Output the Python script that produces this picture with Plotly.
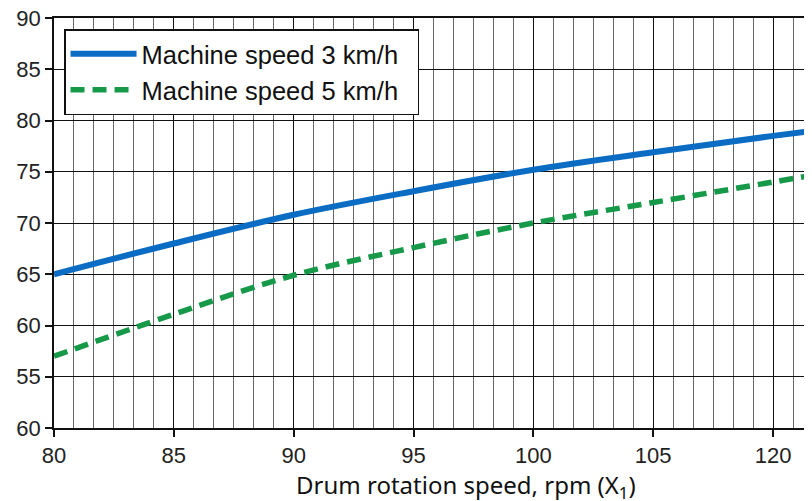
import plotly.graph_objects as go

# Data
drum_speed = [80, 85, 90, 95, 100, 105, 110, 112]
speed_3kmh = [65.0, 68.0, 70.8, 73.1, 75.2, 76.9, 78.5, 79.1]
speed_5kmh = [57.0, 61.1, 64.9, 67.6, 70.0, 72.0, 74.0, 74.8]

x_tick_vals = [80, 85, 90, 95, 100, 105, 110]
x_tick_text = ["80", "85", "90", "95", "100", "105", "120"]
y_tick_vals = [50, 55, 60, 65, 70, 75, 80, 85, 90]
y_tick_text = ["60", "55", "60", "65", "70", "75", "80", "85", "90"]

series_names = ["Machine speed 3 km/h", "Machine speed 5 km/h"]
x_title = "Drum rotation speed, rpm (X<sub>1</sub>)"
pad = "\u00a0\u00a0"

fig = go.Figure()
fig.add_trace(go.Scatter(
    x=drum_speed, y=speed_3kmh, mode="lines", name=series_names[0] + pad,
    line=dict(color="#0b6cc4", width=6, shape="spline"),
))
fig.add_trace(go.Scatter(
    x=drum_speed, y=speed_5kmh, mode="lines", name=series_names[1] + pad,
    line=dict(color="#17994a", width=5.5, dash="14px,8px", shape="spline"),
))

tick_font = dict(family="Liberation Sans, Arial, sans-serif", size=22, color="#222")

fig.update_layout(
    width=812, height=501,
    margin=dict(l=46, r=0, t=10, b=81),
    paper_bgcolor="white", plot_bgcolor="white",
    showlegend=True,
    legend=dict(
        x=0.0131, y=0.973, xanchor="left", yanchor="top",
        bgcolor="white", bordercolor="#111", borderwidth=1.5,
        font=dict(family="Liberation Sans, Arial, sans-serif", size=25.5, color="#111"),
        itemwidth=66, tracegroupgap=0,
    ),
    xaxis=dict(
        range=[80, 111.96], tickmode="array", tickvals=x_tick_vals, ticktext=x_tick_text,
        ticks="outside", ticklen=7, tickwidth=1.5, tickcolor="#111",
        showline=True, linecolor="#111", linewidth=1.5, mirror=True,
        showgrid=True, gridcolor="#111", gridwidth=1.2,
        minor=dict(tick0=80, dtick=5/6, showgrid=True, gridcolor="#666", gridwidth=1, ticks=""),
        tickfont=tick_font, zeroline=False, automargin=False, ticklabeloverflow="allow",
    ),
    yaxis=dict(
        range=[50, 90], tickmode="array", tickvals=y_tick_vals, ticktext=y_tick_text,
        ticks="outside", ticklen=7, tickwidth=1.5, tickcolor="#111",
        showline=True, linecolor="#111", linewidth=1.5,
        showgrid=True, gridcolor="#111", gridwidth=1.2,
        tickfont=tick_font, zeroline=False, automargin=False, ticklabeloverflow="allow",
    ),
    annotations=[dict(
        text=x_title, xref="paper", yref="paper", x=0.538, y=-0.142,
        xanchor="center", yanchor="middle", showarrow=False,
        font=dict(family="Noto Sans, Open Sans, sans-serif", size=24, color="#111"),
    )],
)

fig.write_html("out.html")
